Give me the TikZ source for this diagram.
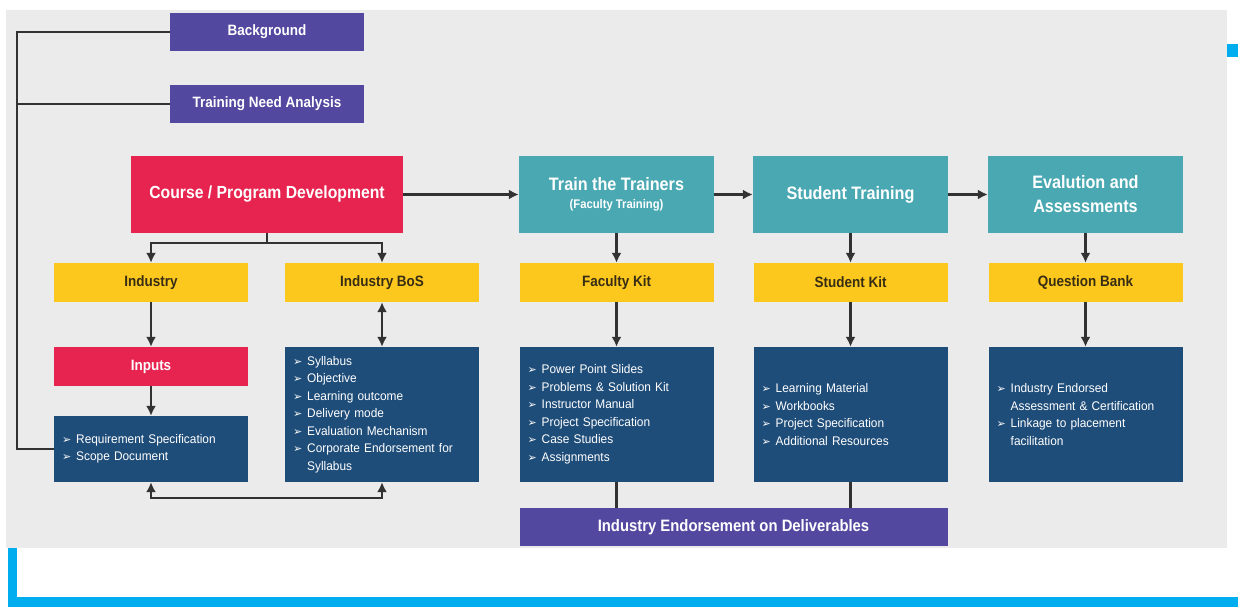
\documentclass[tikz,border=0pt]{standalone}
\usepackage{fontspec}
\setmainfont{Liberation Sans}
\newfontfamily\headfont[FakeStretch=0.9]{Liberation Sans}
\newfontfamily\bodyfont[FakeStretch=0.95, WordSpace=0.8]{Liberation Sans}
\newfontfamily\symfont{DejaVu Sans}
\usetikzlibrary{arrows.meta}

\definecolor{panelgrey}{RGB}{235,235,235}
\definecolor{vpurple}{RGB}{82,72,160}
\definecolor{vred}{RGB}{231,36,79}
\definecolor{vteal}{RGB}{73,168,178}
\definecolor{vyellow}{RGB}{253,200,30}
\definecolor{vblue}{RGB}{31,77,121}
\definecolor{vcyan}{RGB}{0,174,239}
\definecolor{vline}{RGB}{50,50,50}
\definecolor{vdark}{RGB}{55,45,20}

\newcommand{\bul}{{\symfont\fontsize{11}{11}\selectfont\char"27A2}\hspace{5pt}}
\newcommand{\gap}{\phantom{\bul}}

\tikzset{
  chart/.style={
    x=1pt, y=-1pt,
    every node/.style={inner sep=0pt, text=white, align=center},
    headbox/.style={
        minimum width=194pt,
        minimum height=38pt,
        font=\headfont\bfseries\fontsize{15}{17}\selectfont,
    },
    purplebox/.style={headbox, fill=vpurple},
    redbox/.style={headbox, fill=vred},
    tealbox/.style={
        headbox,
        fill=vteal,
        minimum width=195pt,
        minimum height=77pt,
        font=\headfont\bfseries\fontsize{18}{23}\selectfont,
    },
    kitbox/.style={headbox, fill=vyellow, minimum height=39pt, text=vdark},
    listbox/.style={
        fill=vblue,
        text width=178pt,
        inner xsep=8pt,
        minimum height=135pt,
        align=left,
        font=\bodyfont\fontsize{12.5}{17.5}\selectfont,
    },
    link/.style={draw=vline, line width=2.4pt},
    arr/.style={link, -{Latex[length=10pt,width=10pt]}},
    twoarr/.style={link, {Latex[length=10pt,width=10pt]}-{Latex[length=10pt,width=10pt]}},
  }
}

\begin{document}
\begin{tikzpicture}[chart]
  \useasboundingbox (0,0) rectangle (1238,610);
  % panel and frame
  \fill[panelgrey] (6,10) rectangle (1227,548);
  \fill[vcyan] (8,548) rectangle (17,607);
  \fill[vcyan] (8,597) rectangle (1238,607);
  \fill[vcyan] (1227,44) rectangle (1238,57);

  % left column
  \node[purplebox] (bg) at (267,32) {Background};
  \node[purplebox] (tna) at (267,104) {Training Need Analysis};
  \node[redbox, minimum width=272pt, minimum height=77pt,
        font=\headfont\bfseries\fontsize{17.5}{20}\selectfont] (course) at (267,194.5)
        {Course / Program Development};
  \node[kitbox] (ind) at (151,282.5) {Industry};
  \node[kitbox] (bos) at (382,282.5) {Industry BoS};
  \node[redbox, minimum height=39pt] (inputs) at (151,366.5) {Inputs};
  \node[listbox, minimum height=66pt] (req) at (151,449)
        {\bul Requirement Specification\\\bul Scope Document};
  \node[listbox] (syl) at (382,414.5)
        {\bul Syllabus\\\bul Objective\\\bul Learning outcome\\\bul Delivery mode\\
         \bul Evaluation Mechanism\\\bul Corporate Endorsement for\\\gap Syllabus};

  % training stages
  \node[tealbox] (train) at (616.5,194.5)
        {Train the Trainers\\[-5pt]{\fontsize{12.5}{14}\selectfont(Faculty Training)}};
  \node[tealbox] (stud) at (850.5,194.5) {Student Training};
  \node[tealbox, font=\headfont\bfseries\fontsize{18}{24}\selectfont] (eval) at (1085.5,194.5)
        {Evalution and\\Assessments};
  \node[kitbox] (fkit) at (616.5,282.5) {Faculty Kit};
  \node[kitbox] (skit) at (850.5,282.5) {Student Kit};
  \node[kitbox] (qbank) at (1085.5,282.5) {Question Bank};
  \node[listbox] (fbox) at (616.5,414.5)
        {\bul Power Point Slides\\\bul Problems \& Solution Kit\\\bul Instructor Manual\\
         \bul Project Specification\\\bul Case Studies\\\bul Assignments};
  \node[listbox] (sbox) at (850.5,414.5)
        {\bul Learning Material\\\bul Workbooks\\\bul Project Specification\\
         \bul Additional Resources};
  \node[listbox] (qbox) at (1085.5,414.5)
        {\bul Industry Endorsed\\\gap Assessment \& Certification\\
         \bul Linkage to placement\\\gap facilitation};
  \node[purplebox, minimum width=428pt, font=\headfont\bfseries\fontsize{16.5}{18}\selectfont]
        (endorse) at (733.5,527) {Industry Endorsement on Deliverables};

  % connectors
  \coordinate (rail) at (17,449);
  \draw[link] (bg.west) -| (rail) -- (req.west);
  \draw[link] (tna.west) -- (tna.west -| rail);
  \draw[arr] (course.south) -- ++(0,10) -| (ind.north);
  \draw[arr] (course.south) -- ++(0,10) -| (bos.north);
  \draw[arr] (course.east) -- (train.west);
  \draw[arr] (train.east) -- (stud.west);
  \draw[arr] (stud.east) -- (eval.west);
  \draw[arr] (ind.south) -- (inputs.north);
  \draw[arr] (inputs.south) -- (req.north);
  \draw[twoarr] (bos.south) -- (syl.north);
  \draw[twoarr] (req.south) -- ++(0,16) -| (syl.south);
  \draw[arr] (train.south) -- (fkit.north);
  \draw[arr] (stud.south) -- (skit.north);
  \draw[arr] (eval.south) -- (qbank.north);
  \draw[arr] (fkit.south) -- (fbox.north);
  \draw[arr] (skit.south) -- (sbox.north);
  \draw[arr] (qbank.south) -- (qbox.north);
  \draw[link] (fbox.south) -- (fbox.south |- endorse.north);
  \draw[link] (sbox.south) -- (sbox.south |- endorse.north);
\end{tikzpicture}
\end{document}
